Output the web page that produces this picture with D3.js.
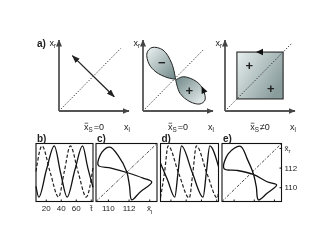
<!DOCTYPE html>
<html>
<head>
<meta charset="utf-8">
<script src="https://cdn.jsdelivr.net/npm/d3@7"></script>
<style>
body { margin: 0; background: #fff; }
svg { will-change: transform; }
svg text { font-family: "Liberation Sans", Arial, sans-serif; fill: #222; }
</style>
</head>
<body>
<script>
// ---- top row: schematic phase planes (unit coords along the x_l / x_r arrows) ----
var planeRel = ["=0", "=0", "\u22600"];
var diagEnd = [0.88, 0.86, 0.95];
var swingArrow = [[0.19, 0.78], [0.79, 0.2]];
var lobeUpper = [[0.467,0.446],[0.41,0.672],[0.286,0.859],[0.129,0.894],[0.057,0.817],[0.086,0.662],[0.186,0.549],[0.343,0.472],[0.467,0.446]];
var lobeLower = [[0.467,0.437],[0.576,0.483],[0.767,0.413],[0.861,0.296],[0.886,0.155],[0.814,0.099],[0.671,0.131],[0.529,0.249],[0.467,0.437]];
var squareSpan = [0.17, 0.83];
var lobeSigns = [["\u2212", 0.267, 0.686], ["+", 0.661, 0.282]];
var squareSigns = [["+", 0.347, 0.638], ["+", 0.653, 0.32]];

// ---- bottom row ----
var tDomain = [7, 83];
var xDomain = [108.85, 114.75];
var yDomain = [108.55, 114.45];
var tTicks = [20, 40, 60, 80];
var xTicks = [110, 112, 114];

// b) time traces, x_s = 0
var bSolidT = [7, 10.8, 21, 31.3, 40, 48.5, 59, 69, 76, 83];
var bSolidV = [110.1, 109.0, 111.8, 114.2, 111.4, 109.0, 111.8, 114.2, 112.0, 110.0];
var bDashT = [7, 15, 26, 37, 45, 52.7, 63.3, 74, 83];
var bDashV = [111.6, 114.2, 111.5, 109.0, 111.7, 114.2, 111.5, 109.0, 112.0];
// c) phase loop, x_s = 0
var cLoopL = [109.07, 109.43, 110.20, 110.98, 111.82, 112.09, 112.30, 113.10, 114.24, 113.40, 111.82, 110.30];
var cLoopR = [112.24, 113.57, 114.08, 113.24, 111.57, 110.13, 108.72, 109.50, 110.53, 110.93, 111.50, 111.95];
// d) time traces, x_s != 0
var dSolidT = [7, 16.4, 25.7, 30.1, 34.5, 48.6, 62.8, 67.2, 71.6, 83];
var dSolidV = [112.45, 110.7, 109.0, 111.6, 114.2, 111.5, 109.0, 111.6, 114.2, 112.1];
var dDashT = [7, 12.3, 17, 30.9, 44.7, 49.4, 54, 67.9, 81.7, 83];
var dDashV = [108.95, 111.5, 114.2, 111.4, 108.9, 111.5, 114.2, 111.4, 108.9, 109.6];
// e) phase loop, x_s != 0
var eLoopL = [109.05, 109.48, 110.68, 111.38, 111.95, 112.25, 112.46, 113.32, 114.27, 113.32, 111.95, 110.30];
var eLoopR = [111.90, 113.41, 114.17, 112.81, 111.40, 110.06, 108.72, 109.39, 110.23, 110.56, 111.30, 111.72];

var svg = d3.select("body").append("svg").attr("width", 332).attr("height", 249);
var defs = svg.append("defs");

function marker(id, color, w, h) {
  defs.append("marker").attr("id", id)
    .attr("viewBox", "0 0 " + w + " " + h).attr("refX", w - 0.5).attr("refY", h / 2)
    .attr("markerWidth", w).attr("markerHeight", h)
    .attr("markerUnits", "userSpaceOnUse").attr("orient", "auto-start-reverse")
    .append("path").attr("d", "M0,0L" + w + "," + (h / 2) + "L0," + h + "Z").attr("fill", color);
}
marker("axArrow", "#444", 7, 6);
marker("swArrow", "#222", 8, 6);

function grad(id, x1, y1, x2, y2, c1, c2) {
  var g = defs.append("linearGradient").attr("id", id)
    .attr("x1", x1).attr("y1", y1).attr("x2", x2).attr("y2", y2);
  g.append("stop").attr("offset", "0").attr("stop-color", c1);
  g.append("stop").attr("offset", "1").attr("stop-color", c2);
}
grad("gUp", 0, 0, 1, 1, "#eef3f3", "#6f8787");
grad("gLo", 0, 0, 1, 1, "#6f8787", "#eef3f3");
grad("gSq", 0, 0, 1, 0.6, "#e8efef", "#8a9d9d");

function subText(sel, x, y, main, sub, rest, size, anchor) {
  var t = sel.append("text").attr("x", x).attr("y", y)
    .attr("font-size", size).attr("text-anchor", anchor || "start");
  t.append("tspan").text(main);
  t.append("tspan").attr("dy", size * 0.25).attr("font-size", size * 0.7).text(sub);
  if (rest) t.append("tspan").attr("dx", 1).attr("dy", -size * 0.25).text(rest);
  return t;
}

// ---------------- top row ----------------
var topX0 = [59, 143, 225], topW = 70, topY0 = 111, topH = 71;

svg.append("text").attr("x", 37).attr("y", 47).attr("font-size", 10)
  .attr("font-weight", "bold").text("a)");

topX0.forEach(function(x0, i) {
  var sx = d3.scaleLinear().domain([0, 1]).range([x0, x0 + topW]);
  var sy = d3.scaleLinear().domain([0, 1]).range([topY0, topY0 - topH]);
  var g = svg.append("g");
  var line = d3.line().x(function(d) { return sx(d[0]); }).y(function(d) { return sy(d[1]); });

  if (i == 1) {
    g.append("path")
      .attr("d", line.curve(d3.curveCatmullRom)(lobeUpper) + "Z")
      .attr("fill", "url(#gUp)").attr("stroke", "#222").attr("stroke-width", 1);
    g.append("path")
      .attr("d", line.curve(d3.curveCatmullRom)(lobeLower) + "Z")
      .attr("fill", "url(#gLo)").attr("stroke", "#222").attr("stroke-width", 1);
    // direction arrow on the lower lobe
    var a = lobeLower[4], b = lobeLower[2], p = lobeLower[3];
    var ang = Math.atan2(sy(b[1]) - sy(a[1]), sx(b[0]) - sx(a[0])) * 180 / Math.PI;
    g.append("path").attr("d", "M4,0L-3,-3.2L-3,3.2Z").attr("fill", "#111")
      .attr("transform", "translate(" + sx(p[0]) + "," + sy(p[1]) + ") rotate(" + ang + ")");
    lobeSigns.forEach(function(s) {
      g.append("text").attr("x", sx(s[1])).attr("y", sy(s[2]) + 4.5)
        .attr("text-anchor", "middle").attr("font-size", 13).attr("font-weight", "bold").text(s[0]);
    });
  }
  if (i == 2) {
    g.append("rect").attr("x", sx(squareSpan[0])).attr("y", sy(squareSpan[1]))
      .attr("width", sx(squareSpan[1]) - sx(squareSpan[0]))
      .attr("height", sy(squareSpan[0]) - sy(squareSpan[1]))
      .attr("fill", "url(#gSq)").attr("stroke", "#333").attr("stroke-width", 1.2);
    var mx = sx((squareSpan[0] + squareSpan[1]) / 2), my = sy(squareSpan[1]);
    g.append("path").attr("d", "M-4,0L3,-3.2L3,3.2Z").attr("fill", "#111")
      .attr("transform", "translate(" + mx + "," + my + ")");
    squareSigns.forEach(function(s) {
      g.append("text").attr("x", sx(s[1])).attr("y", sy(s[2]) + 4.5)
        .attr("text-anchor", "middle").attr("font-size", 13).attr("font-weight", "bold").text(s[0]);
    });
  }

  // diagonal x_l = x_r
  g.append("line").attr("x1", sx(0)).attr("y1", sy(0))
    .attr("x2", sx(diagEnd[i])).attr("y2", sy(diagEnd[i]))
    .attr("stroke", "#333").attr("stroke-width", 1).attr("stroke-dasharray", "1.3,1.7");

  if (i == 0) {
    g.append("line").attr("x1", sx(swingArrow[0][0])).attr("y1", sy(swingArrow[0][1]))
      .attr("x2", sx(swingArrow[1][0])).attr("y2", sy(swingArrow[1][1]))
      .attr("stroke", "#222").attr("stroke-width", 1.3)
      .attr("marker-start", "url(#swArrow)").attr("marker-end", "url(#swArrow)");
  }

  // axes
  g.append("line").attr("x1", sx(0)).attr("y1", sy(0)).attr("x2", sx(0)).attr("y2", sy(1))
    .attr("stroke", "#555").attr("stroke-width", 1.8).attr("marker-end", "url(#axArrow)");
  g.append("line").attr("x1", sx(0)).attr("y1", sy(0)).attr("x2", sx(1)).attr("y2", sy(0))
    .attr("stroke", "#555").attr("stroke-width", 1.8).attr("marker-end", "url(#axArrow)");

  subText(g, sx(0) - 3, sy(1) + 6, "x", "r", null, 9, "end");
  subText(g, sx(0.97), topY0 + 19, "x", "l", null, 9, "middle");
  // caption x_S with an overbar drawn over the x
  var cap = subText(g, sx(0.5), topY0 + 19, "x", "S", planeRel[i], 9, "middle");
  var e = cap.node().getExtentOfChar(0);
  g.append("line").attr("x1", e.x + 0.6).attr("x2", e.x + e.width - 0.3)
    .attr("y1", e.y + 1.2).attr("y2", e.y + 1.2).attr("stroke", "#222").attr("stroke-width", 0.7);
});

// ---------------- bottom row ----------------
var botTop = 143.5, botBot = 201.5;
var yS = d3.scaleLinear().domain(yDomain).range([botBot, botTop]);

function frame(x0, x1, label) {
  svg.append("rect").attr("x", x0).attr("y", botTop).attr("width", x1 - x0).attr("height", botBot - botTop)
    .attr("fill", "none").attr("stroke", "#111").attr("stroke-width", 1.1);
  svg.append("text").attr("x", x0 + 1).attr("y", botTop - 1.5).attr("font-size", 10)
    .attr("font-weight", "bold").text(label);
}

function bottomAxis(scale, ticks, labels, showLabels) {
  var ax = d3.axisBottom(scale).tickValues(ticks).tickSize(-2).tickPadding(4)
    .tickFormat(function(d, k) { return showLabels ? labels[k] : ""; });
  var g = svg.append("g").attr("transform", "translate(0," + botBot + ")").call(ax);
  g.select(".domain").remove();
  g.selectAll("line").attr("stroke", "#111");
  g.selectAll("text").attr("font-size", 8).attr("fill", "#222").attr("font-family", null);
  return g;
}

function seriesPanel(x0, x1, label, sT, sV, dT, dV, showLabels) {
  var xS = d3.scaleLinear().domain(tDomain).range([x0, x1]);
  var line = d3.line().curve(d3.curveMonotoneX)
    .x(function(d) { return xS(d[0]); }).y(function(d) { return yS(d[1]); });
  var g = svg.append("g");
  g.append("path").attr("d", line(d3.zip(dT, dV))).attr("fill", "none")
    .attr("stroke", "#222").attr("stroke-width", 1.2).attr("stroke-dasharray", "3.5,2");
  g.append("path").attr("d", line(d3.zip(sT, sV))).attr("fill", "none")
    .attr("stroke", "#111").attr("stroke-width", 1.3);
  frame(x0, x1, label);
  bottomAxis(xS, tTicks, ["20", "40", "60", "t\u0303"], showLabels);
}

function loopPanel(x0, x1, label, lV, rV, showX, showY) {
  var xS = d3.scaleLinear().domain(xDomain).range([x0, x1]);
  var g = svg.append("g");
  g.append("line").attr("x1", xS(xDomain[0])).attr("y1", yS(yDomain[0]))
    .attr("x2", xS(xDomain[1])).attr("y2", yS(yDomain[1]))
    .attr("stroke", "#333").attr("stroke-width", 0.9).attr("stroke-dasharray", "3,1.5,1,1.5");
  var line = d3.line().curve(d3.curveCatmullRomClosed.alpha(0.5))
    .x(function(d) { return xS(d[0]); }).y(function(d) { return yS(d[1]); });
  g.append("path").attr("d", line(d3.zip(lV, rV))).attr("fill", "none")
    .attr("stroke", "#111").attr("stroke-width", 1.3);
  frame(x0, x1, label);
  var ax = bottomAxis(xS, xTicks, ["110", "112", ""], showX);
  if (showX) {
    var t = ax.selectAll(".tick text").filter(function(d) { return d == 114; });
    t.append("tspan").text("x\u0303");
    t.append("tspan").attr("dy", 2.5).attr("font-size", 6).text("l");
  }
  if (showY) {
    var ay = svg.append("g").attr("transform", "translate(" + x1 + ",0)")
      .call(d3.axisRight(yS).tickValues(xTicks).tickSize(-2).tickPadding(3)
        .tickFormat(function(d, k) { return ["110", "112", ""][k]; }));
    ay.select(".domain").remove();
    ay.selectAll("line").attr("stroke", "#111");
    ay.selectAll("text").attr("font-size", 8).attr("fill", "#222").attr("font-family", null);
    var ty = ay.selectAll(".tick text").filter(function(d) { return d == 114; });
    ty.append("tspan").text("x\u0303");
    ty.append("tspan").attr("dy", 2.5).attr("font-size", 6).text("r");
  }
}

seriesPanel(36, 93, "b)", bSolidT, bSolidV, bDashT, bDashV, true);
loopPanel(96, 157, "c)", cLoopL, cLoopR, true, false);
seriesPanel(160.5, 218.5, "d)", dSolidT, dSolidV, dDashT, dDashV, false);
loopPanel(222, 281.5, "e)", eLoopL, eLoopR, false, true);
</script>
</body>
</html>
